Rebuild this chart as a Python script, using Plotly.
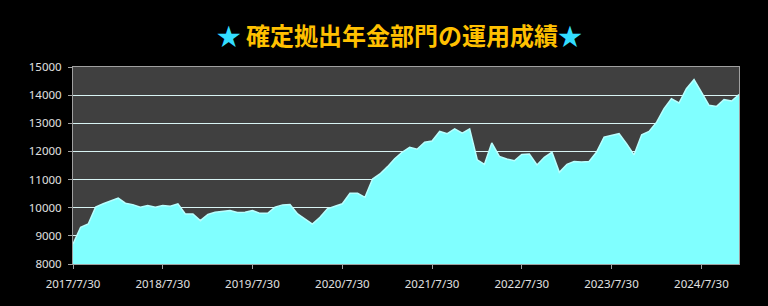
import calendar
import plotly.graph_objects as go

title_text = "確定拠出年金部門の運用成績"

# monthly observation dates 2017/7/30 .. 2024/12/30
months = [(2017 + (6 + k) // 12, (6 + k) % 12 + 1) for k in range(90)]
dates = [f"{y:04d}-{m:02d}-{min(30, calendar.monthrange(y, m)[1]):02d}" for y, m in months]

values = [
    8710, 9300, 9420, 10020, 10140, 10250, 10340, 10160, 10110, 10020,
    10080, 10020, 10080, 10050, 10140, 9780, 9780, 9540, 9760, 9840,
    9870, 9900, 9830, 9840, 9900, 9800, 9800, 10020, 10100, 10110,
    9780, 9600, 9420, 9660, 9960, 10050, 10140, 10510, 10510, 10370,
    11020, 11200, 11460, 11740, 11970, 12150, 12080, 12330, 12370, 12710,
    12630, 12800, 12650, 12800, 11700, 11540, 12300, 11820, 11730, 11670,
    11890, 11910, 11520, 11790, 11970, 11260, 11540, 11640, 11620, 11640,
    11970, 12510, 12570, 12630, 12270, 11880, 12590, 12710, 13040, 13520,
    13870, 13720, 14230, 14550, 14110, 13640, 13600, 13840, 13790, 14020,
]

tick_dates = ["2017-07-30", "2018-07-30", "2019-07-30", "2020-07-30",
              "2021-07-30", "2022-07-30", "2023-07-30", "2024-07-30"]
tick_labels = ["2017/7/30", "2018/7/30", "2019/7/30", "2020/7/30",
               "2021/7/30", "2022/7/30", "2023/7/30", "2024/7/30"]

fig = go.Figure()
fig.add_trace(go.Scatter(
    x=dates, y=values, mode="lines", fill="tozeroy",
    fillcolor="#80ffff", line=dict(color="#b8ffff", width=1.5),
    hoverinfo="x+y",
))

fig.update_layout(
    width=768, height=306,
    paper_bgcolor="#000000", plot_bgcolor="#404040",
    margin=dict(l=73, r=29, t=67, b=42),
    showlegend=False,
    title=dict(
        text=("<span style='color:#33ddff'>★</span> " + title_text +
              "<span style='color:#33ddff'>★</span>"),
        x=0.52, xanchor="center", y=0.88, yanchor="middle",
        font=dict(family="Noto Sans CJK JP", size=24, color="#ffc000", weight="bold"),
    ),
    xaxis=dict(
        type="date", range=[dates[0], dates[-1]],
        tickvals=tick_dates, ticktext=tick_labels,
        showgrid=False, zeroline=False,
        showline=True, linecolor="#a0a0a0", linewidth=1, mirror=True,
        ticks="outside", ticklen=4, tickcolor="#a0a0a0",
        ticklabelstandoff=5,
        tickfont=dict(family="Noto Sans", size=11.5, color="#e0e0e0"),
    ),
    yaxis=dict(
        range=[8000, 15000], dtick=1000, tickformat="d",
        showgrid=True, gridcolor="#d8f4f4", gridwidth=1,
        zeroline=False,
        showline=True, linecolor="#a0a0a0", linewidth=1, mirror=True,
        ticks="outside", ticklen=4, tickcolor="#a0a0a0",
        ticklabelstandoff=4,
        tickfont=dict(family="Noto Sans", size=11.5, color="#e0e0e0"),
    ),
)

fig.write_html("out.html")
